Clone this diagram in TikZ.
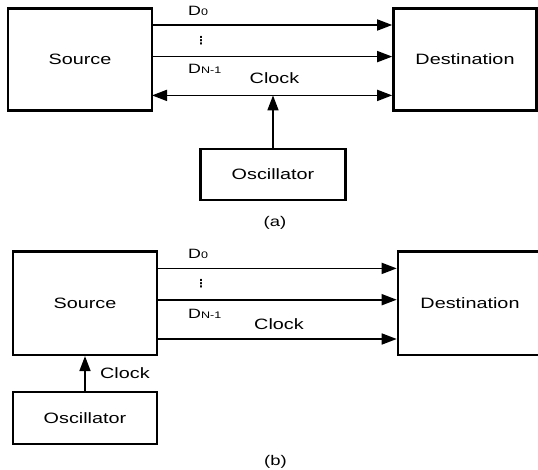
\documentclass[tikz,border=0pt]{standalone}
\usepackage{fontspec}
\setmainfont[FakeStretch=1.32]{Liberation Sans}
\newfontfamily\symfont{DejaVu Sans}
\usetikzlibrary{arrows.meta}

\newcommand{\lineidx}[1]{{\fontsize{9.5}{10}\selectfont #1}}
\newcommand{\dotcol}{{\symfont\bfseries\fontsize{11}{11}\selectfont ⋮}}

\tikzset{
  block/.style={draw,line width=2.6pt,inner sep=0pt,font=\fontsize{15}{18}\selectfont},
  wire/.style={line width=1.7pt,-{Triangle[length=15pt,width=11pt]}},
  bus/.style={line width=1.7pt,{Triangle[length=15pt,width=11pt]}-{Triangle[length=15pt,width=11pt]}},
  sig/.style={inner sep=0pt,font=\fontsize{13.5}{15}\selectfont},
}

\begin{document}
\begin{tikzpicture}[x=1pt,y=-1pt]
        \useasboundingbox (0,0) rectangle (538,470);

        % (a) oscillator feeds both ends
        \begin{scope}[every node/.style={block}]
          \node[minimum width=144pt,minimum height=102pt] (srcA) at (80,59.5)  {Source};
          \node[minimum width=143pt,minimum height=102pt] (dstA) at (465,59.5) {Destination};
          \node[minimum width=145pt,minimum height=51pt]  (oscA) at (273,174.5) {Oscillator};
        \end{scope}

        \coordinate (dA0) at (152,25);
        \coordinate (dAn) at (152,56.6);
        \coordinate (clkA) at (152,95.4);
        \coordinate (tapA) at (oscA.north |- clkA);

        \draw[wire] (dA0) -- (dA0 -| dstA.west);
        \draw[wire] (dAn) -- (dAn -| dstA.west);
        \draw[bus]  (clkA) -- (clkA -| dstA.west);
        \draw[wire] (oscA.north) -- (tapA);

        \begin{scope}[every node/.style={sig}]
          \node[anchor=base west] (lA0) at (188,16)   {D\lineidx{0}};
          \node                   (lAd) at (201,41)   {\dotcol};
          \node[anchor=base west] (lAn) at (188,73.5) {D\lineidx{N-1}};
          \node[anchor=base,font=\fontsize{15}{18}\selectfont] (lAc) at (274.5,83.3) {Clock};
          \node[font=\fontsize{14}{16}\selectfont] (capA) at (275,223) {(a)};
        \end{scope}

        % (b) oscillator feeds the source only
        \begin{scope}[every node/.style={block}]
          \node[minimum width=144pt,minimum height=103pt] (srcB) at (85,303.3)  {Source};
          \node[minimum width=144pt,minimum height=103pt] (dstB) at (470,303.3) {Destination};
          \node[minimum width=144pt,minimum height=52pt]  (oscB) at (85,418)    {Oscillator};
        \end{scope}

        \coordinate (dB0) at (157,268.4);
        \coordinate (dBn) at (157,299.7);
        \coordinate (clkB) at (157,339);

        \draw[wire] (dB0) -- (dB0 -| dstB.west);
        \draw[wire] (dBn) -- (dBn -| dstB.west);
        \draw[wire] (clkB) -- (clkB -| dstB.west);
        \draw[wire] (oscB.north) -- (srcB.south);

        \begin{scope}[every node/.style={sig}]
          \node[anchor=base west] (lB0) at (188,259)   {D\lineidx{0}};
          \node                   (lBd) at (201,284)   {\dotcol};
          \node[anchor=base west] (lBn) at (188,318.5) {D\lineidx{N-1}};
          \node[anchor=base,font=\fontsize{15}{18}\selectfont] (lBc) at (279,329.5) {Clock};
          \node[anchor=base west,font=\fontsize{15}{18}\selectfont] (lBo) at (100,378) {Clock};
          \node[font=\fontsize{14}{16}\selectfont] (capB) at (275.5,462) {(b)};
        \end{scope}

      \end{tikzpicture}
\end{document}
